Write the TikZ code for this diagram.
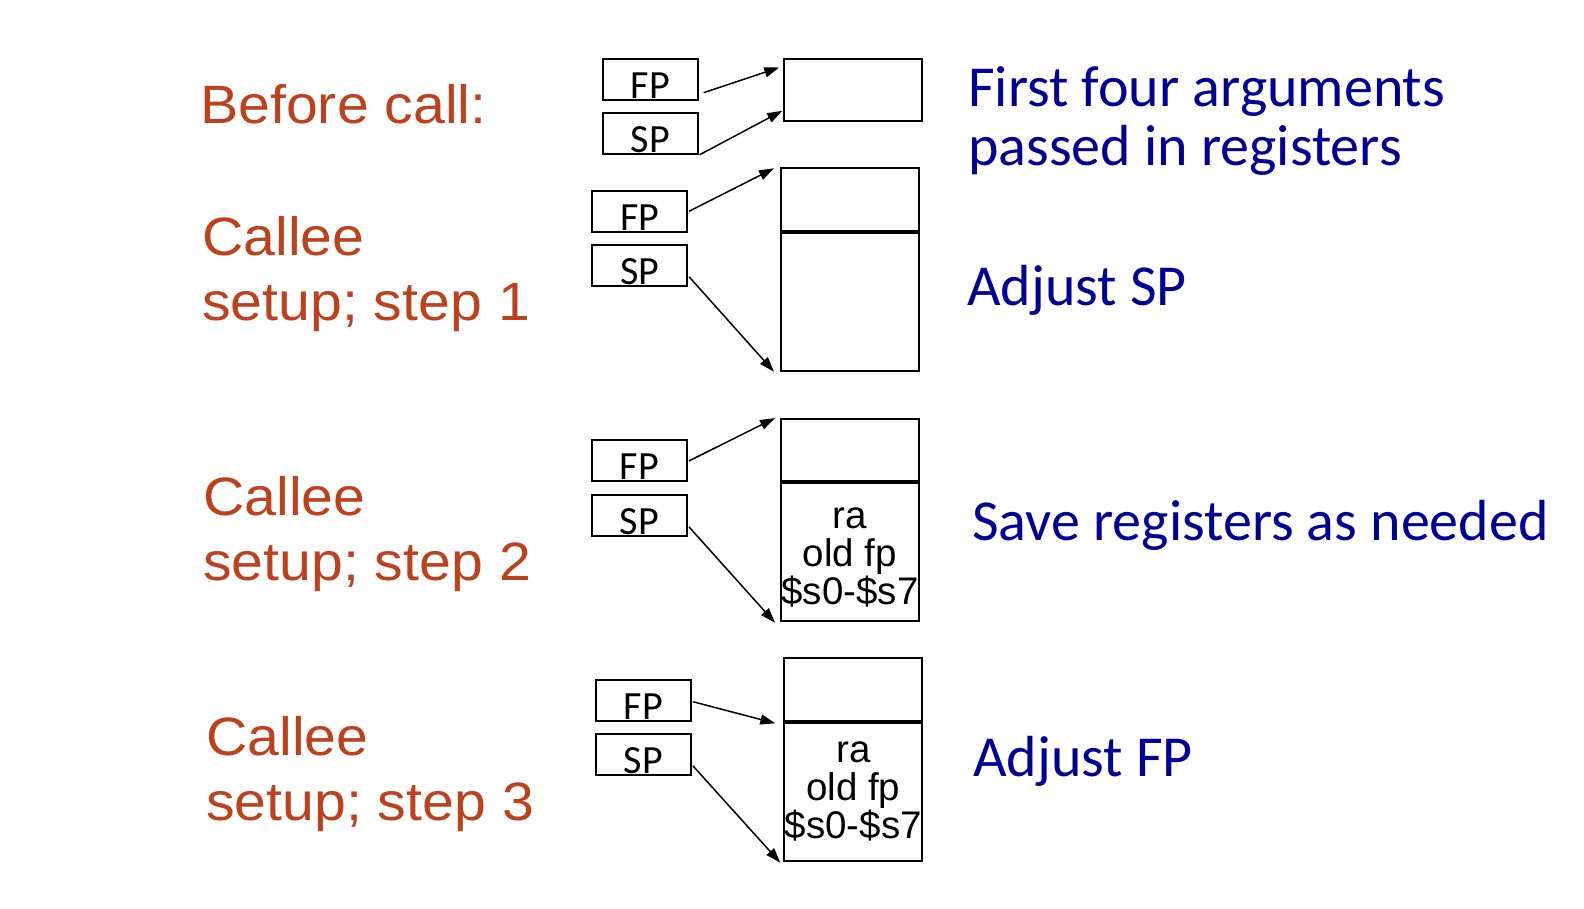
\documentclass[tikz,border=0pt]{standalone}
\usepackage{fontspec}
\setmainfont{Liberation Sans}
\newfontfamily\stepfont[FakeStretch=1.06]{Liberation Sans}
\newfontfamily\notefont{Carlito}
\usetikzlibrary{arrows.meta, positioning}
\definecolor{stepred}{RGB}{190,65,30}
\definecolor{noteblue}{RGB}{0,0,150}
\tikzset{
    reg/.style={
        rectangle,
        draw=black,
        line width=2pt,
        minimum width=95pt,
        minimum height=41pt,
        inner xsep=0pt,
        inner ysep=1.5pt,
        text height=38pt,
        text depth=0pt,
        font=\notefont\fontsize{40}{40}\selectfont
    },
    cell/.style={
        rectangle,
        draw=black,
        line width=2pt,
        minimum width=138pt,
        minimum height=#1,
        inner sep=0pt,
        align=center,
        font=\fontsize{38.5}{38}\selectfont
    },
    steplabel/.style={
        anchor=base west,
        align=left,
        inner sep=0pt,
        text=stepred,
        font=\stepfont\fontsize{54}{65}\selectfont
    },
    note/.style={
        anchor=base west,
        align=left,
        inner sep=0pt,
        text=noteblue,
        font=\notefont\fontsize{58}{59}\selectfont
    },
    ptr/.style={
        -{Triangle[length=15pt,width=10pt]},
        line width=1.5pt
    }
}

\begin{document}
\begin{tikzpicture}[x=1pt, y=-1pt]
    \path[use as bounding box, fill=white] (0,0) rectangle (1584,908);

    \node[steplabel] (before) at (200,123.3) {Before call:};
    \node[steplabel] (step1)  at (202,320)   {Callee\\setup; step 1};
    \node[steplabel] (step2)  at (203,580)   {Callee\\setup; step 2};
    \node[steplabel] (step3)  at (206,820)   {Callee\\setup; step 3};

    \node[reg]                      (fp1) at (650.2,79.2) {FP};
    \node[reg, below=11pt of fp1]   (sp1) {SP};
    \node[cell=62pt]                (top1) at (853.3,89.5) {};

    \node[reg]                      (fp2) at (639.7,211.2) {FP};
    \node[reg, below=11pt of fp2]   (sp2) {SP};
    \node[cell=63pt]                (top2) at (850.4,199.8) {};
    \node[cell=137.4pt, below=0pt of top2] (bot2) {};

    \node[reg]                      (fp3) at (639.5,460.9) {FP};
    \node[reg, below=11.5pt of fp3] (sp3) {SP};
    \node[cell=61.7pt]              (top3) at (850,449.9) {};
    \node[cell=138pt, below=0pt of top3]   (bot3) {\rule{0pt}{33pt}ra\\old fp\\\$s0-\$s7};

    \node[reg]                      (fp4) at (643.4,700.3) {FP};
    \node[reg, below=11.5pt of fp4] (sp4) {SP};
    \node[cell=63pt]                (top4) at (853.3,689.2) {};
    \node[cell=138pt, below=0pt of top4]   (bot4) {ra\\old fp\\\$s0-\$s7};

    \node[note] (args)    at (968,165)   {First four arguments\\passed in registers};
    \node[note] (adjsp)   at (967,305)   {Adjust SP};
    \node[note] (savereg) at (972,540)   {Save registers as needed};
    \node[note] (adjfp)   at (973,776.7) {Adjust FP};

    \draw[ptr] ([xshift=5pt,yshift=-13.5pt]fp1.east) -- ([xshift=-4pt,yshift=-10pt]top1.north west);
    \draw[ptr] ([xshift=1pt]sp1.south east)           -- ([xshift=-1pt,yshift=10.7pt]top1.south west);
    \draw[ptr] ([xshift=1pt]fp2.east)                 -- ([xshift=-6.4pt,yshift=-1pt]top2.north west);
    \draw[ptr] ([xshift=1pt,yshift=-11.7pt]sp2.east)  -- ([xshift=-6.4pt]bot2.south west);
    \draw[ptr] ([xshift=1pt]fp3.east)                 -- ([xshift=-5pt]top3.north west);
    \draw[ptr] ([xshift=1pt,yshift=-11.5pt]sp3.east)  -- ([xshift=-5pt,yshift=-1pt]bot3.south west);
    \draw[ptr] ([xshift=1pt,yshift=-1.4pt]fp4.east)   -- ([xshift=-8pt,yshift=-1.6pt]top4.south west);
    \draw[ptr] ([xshift=1pt,yshift=-11pt]sp4.east)    -- ([xshift=-3pt,yshift=-1pt]bot4.south west);
\end{tikzpicture}
\end{document}
